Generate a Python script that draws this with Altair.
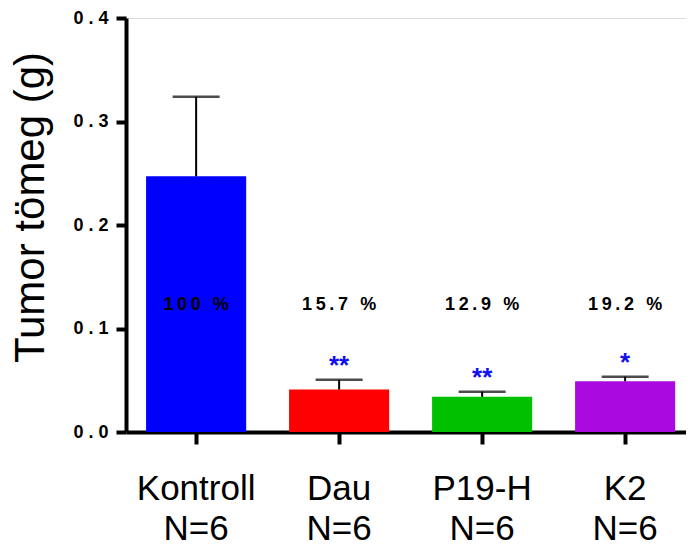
import altair as alt
import pandas as pd

groups = ["Kontroll", "Dau", "P19-H", "K2"]
n_animals = [6, 6, 6, 6]
mean_mass = [0.247, 0.041, 0.034, 0.049]
sem_mass = [0.077, 0.0095, 0.005, 0.0045]
pct_text = ["100 %", "15.7 %", "12.9 %", "19.2 %"]
sig_stars = ["", "**", "**", "*"]
y_ticks = [0.0, 0.1, 0.2, 0.3, 0.4]
pct_row_value = 0.1225

bar_colors = ["#0000FF", "#FF0000", "#00C000", "#AA0ADF"]

labels = [f"{g}|N={n}" for g, n in zip(groups, n_animals)]
df = pd.DataFrame({
    "group": groups,
    "label": labels,
    "mean": mean_mass,
    "top": [m + s for m, s in zip(mean_mass, sem_mass)],
    "pct": pct_text,
    "stars": sig_stars,
})

FONT = "Liberation Sans"

x_scale = alt.Scale(paddingInner=0.3, paddingOuter=0.108, align=0.65)

x_enc = alt.X(
    "label:N",
    sort=labels,
    scale=x_scale,
    axis=alt.Axis(
        title=None,
        labelExpr="split(datum.label, '|')",
        labelAngle=0,
        labelFont=FONT,
        labelFontSize=35,
        labelLineHeight=40,
        labelColor="black",
        labelPadding=27,
        domainWidth=4,
        domainColor="black",
        tickWidth=4,
        tickSize=12,
        tickColor="black",
    ),
)

y_scale = alt.Scale(domain=[0, 0.4], nice=False)
y_axis = alt.Axis(
    values=y_ticks,
    labelExpr="replace(format(datum.value, '.1f'), '.', ' . ')",
    labelFont=FONT,
    labelFontWeight="bold",
    labelFontSize=18,
    labelColor="black",
    labelPadding=8,
    domainWidth=4,
    domainColor="black",
    tickWidth=4,
    tickSize=10,
    tickColor="black",
    grid=False,
    title="Tumor tömeg (g)",
    titleFont=FONT,
    titleFontSize=42,
    titleFontWeight="normal",
    titleColor="black",
    titlePadding=20,
    titleY=189,
)

base = alt.Chart(df)
xb = alt.X("label:N", sort=labels)

bars = base.mark_bar().encode(
    x=x_enc,
    y=alt.Y("mean:Q", scale=y_scale, axis=y_axis),
    color=alt.Color("group:N", scale=alt.Scale(domain=groups, range=bar_colors), legend=None),
)

rules = base.mark_rule(color="black", strokeWidth=2).encode(
    x=xb,
    y="mean:Q",
    y2="top:Q",
)

caps = base.mark_tick(color="black", thickness=2.5, size=47, orient="horizontal").encode(
    x=xb,
    y="top:Q",
)

pcts = base.transform_calculate(
    pct_sp="replace(datum.pct, regexp('(.)(?!$)', 'g'), '$1\u2009')"
).mark_text(font=FONT, fontWeight="bold", fontSize=18, color="black", baseline="middle").encode(
    x=xb,
    y=alt.datum(pct_row_value),
    text="pct_sp:N",
)

stars = base.mark_text(font=FONT, fontWeight="bold", fontSize=26, color="#1010F0",
                       baseline="alphabetic", dy=-6).encode(
    x=xb,
    y="top:Q",
    text="stars:N",
)

chart = alt.layer(bars, rules, caps, pcts, stars).properties(
    width=560,
    height=414,
    autosize=alt.AutoSizeParams(type="none"),
    padding={"left": 118, "top": 10, "right": 0, "bottom": 109},
).configure_view(stroke=None).configure(font=FONT)

chart.save("out.html", embed_options={"renderer": "svg", "actions": False})
